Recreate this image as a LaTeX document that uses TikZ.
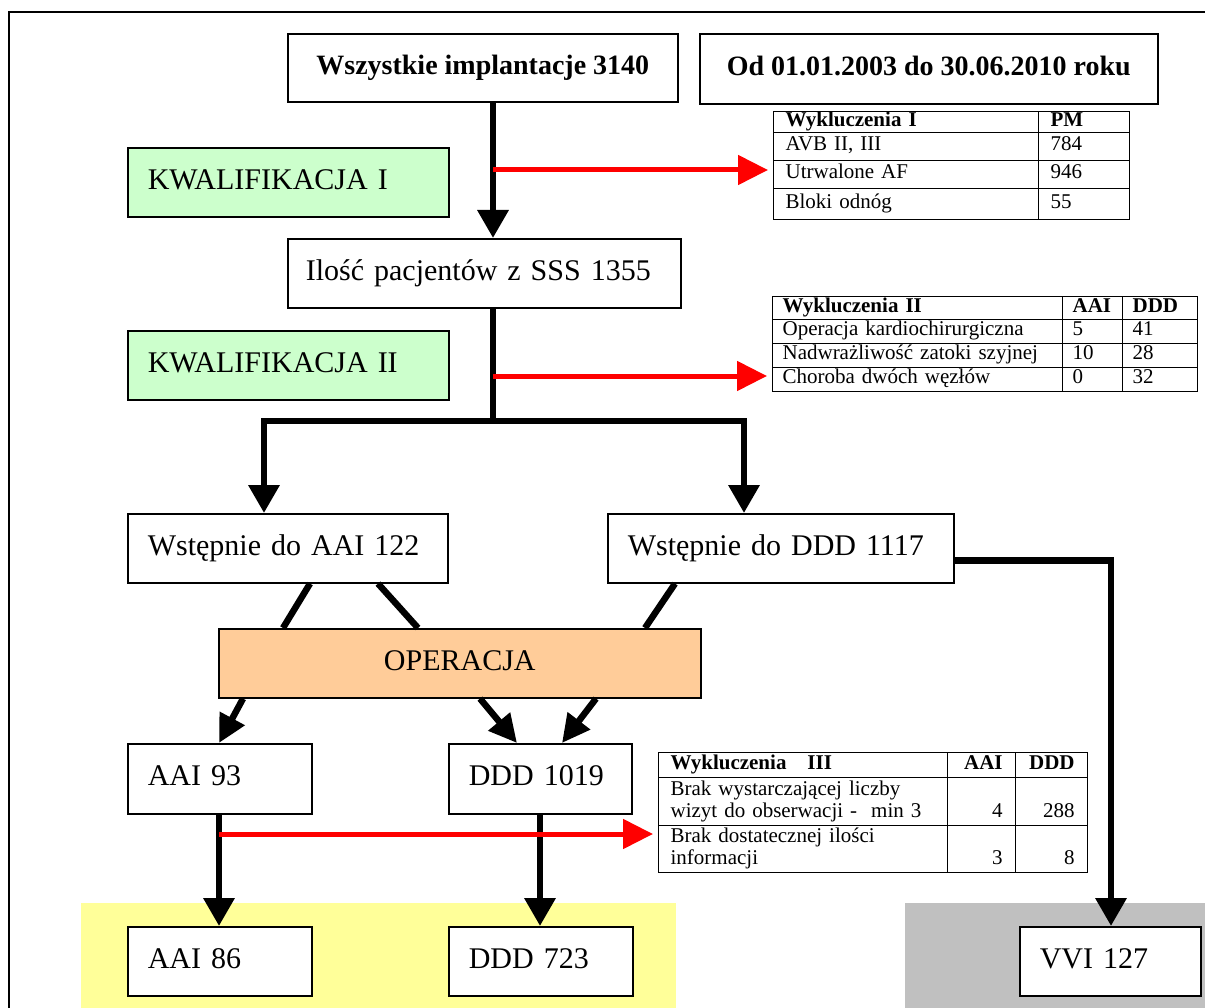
\documentclass[tikz,border=0pt]{standalone}
\usepackage{fontspec}
\setmainfont{Liberation Serif}
\usepackage{tikz}
\usetikzlibrary{positioning,calc,arrows.meta}

\definecolor{kwal}{RGB}{204,255,204}
\definecolor{operfill}{RGB}{255,204,153}
\definecolor{wynik}{RGB}{255,255,153}
\definecolor{vvibg}{RGB}{192,192,192}

\newcommand{\boxfont}{\fontsize{30}{36}\selectfont}
\newcommand{\headfont}{\fontsize{28}{34}\selectfont\bfseries}
\newcommand{\tabfont}{\fontsize{21}{22}\selectfont}

\begin{document}
\begin{tikzpicture}[x=1pt,y=-1pt,
  box/.style={draw,line width=1.6pt,fill=white,anchor=north west,inner ysep=0pt,text height=21pt,text depth=7pt,font=\boxfont},
  boxl/.style={box,align=left,inner xsep=20pt},
  cell/.style={draw,line width=1.2pt,anchor=north west,inner ysep=0pt,inner xsep=12pt,align=left,font=\tabfont},
  cell1/.style={cell,text height=14pt,text depth=6pt},
  cell2/.style={cell1,inner xsep=10pt},
  flowline/.style={line width=6.5pt},
  flow/.style={flowline,-{Triangle[width=30pt,length=28pt]}},
  flowd/.style={flowline,-{Triangle[width=27pt,length=28pt]}},
  excl/.style={red,line width=5pt,-{Triangle[width=29pt,length=30pt]},shorten >=5pt}]
\useasboundingbox (0,0) rectangle (1205,1008);
\clip (0,0) rectangle (1205,1008);

\fill[wynik] (81,903) rectangle (676,1008);
\fill[vvibg] (905,903) rectangle (1205,1008);
\draw[line width=1.5pt] (9,12) rectangle (1250,1050);

\node[box,font=\headfont,minimum width=390pt,minimum height=68pt] (wsz) at (287,33) {Wszystkie implantacje 3140};
\node[box,font=\headfont,minimum width=458pt,minimum height=70pt] (okres) at (699,33) {Od 01.01.2003 do 30.06.2010 roku};
\node[boxl,fill=kwal,text width=281pt,minimum height=69pt] (kw1) at (127,147) {KWALIFIKACJA I};
\node[boxl,inner xsep=18pt,text width=357pt,minimum height=69pt] (ilosc) at (287,238) {Ilość pacjentów z SSS 1355};
\node[boxl,fill=kwal,text width=281pt,minimum height=69pt] (kw2) at (127,330) {KWALIFIKACJA II};
\node[boxl,text width=280pt,minimum height=69pt] (wstA) at (127,513) {Wstępnie do AAI 122};
\node[boxl,text width=306pt,minimum height=69pt] (wstD) at (607,513) {Wstępnie do DDD 1117};
\node[box,fill=operfill,minimum width=482pt,minimum height=69pt] (oper) at (218,628) {OPERACJA};
\node[boxl,text width=144pt,minimum height=70pt] (aai93) at (127,743) {AAI 93};
\node[boxl,text width=143pt,minimum height=70pt] (ddd1019) at (448,743) {DDD 1019};
\node[boxl,text width=144pt,minimum height=69pt] (aai86) at (127,926) {AAI 86};
\node[boxl,text width=144pt,minimum height=69pt] (ddd723) at (448,926) {DDD 723};
\node[boxl,text width=141pt,minimum height=69pt] (vvi) at (1019,926) {VVI 127};

% Wykluczenia I
\node[cell1,text width=241pt,minimum height=21pt] (w1h) at (773,111) {\textbf{Wykluczenia I}};
\node[cell1,text width=67pt,minimum height=21pt] (w1hn) at (1038,111) {\textbf{PM}};
\node[cell1,text width=241pt,minimum height=28pt] (w1a) at (773,132) {AVB II, III};
\node[cell1,text width=67pt,minimum height=28pt] (w1an) at (1038,132) {784};
\node[cell1,text width=241pt,minimum height=28pt] (w1b) at (773,160) {Utrwalone AF};
\node[cell1,text width=67pt,minimum height=28pt] (w1bn) at (1038,160) {946};
\node[cell1,text width=241pt,minimum height=31pt] (w1c) at (773,188) {Bloki odnóg};
\node[cell1,text width=67pt,minimum height=31pt] (w1cn) at (1038,188) {55};

% Wykluczenia II
\node[cell2,text width=270pt,minimum height=23pt] (w2h) at (772,296) {\textbf{Wykluczenia II}};
\node[cell2,text width=40pt,minimum height=23pt] (w2ha) at (1062,296) {\textbf{AAI}};
\node[cell2,text width=55pt,minimum height=23pt] (w2hd) at (1122,296) {\textbf{DDD}};
\node[cell2,text width=270pt,minimum height=24pt] (w2a) at (772,319) {Operacja kardiochirurgiczna};
\node[cell2,text width=40pt,minimum height=24pt] (w2aa) at (1062,319) {5};
\node[cell2,text width=55pt,minimum height=24pt] (w2ad) at (1122,319) {41};
\node[cell2,text width=270pt,minimum height=24pt] (w2b) at (772,343) {Nadwrażliwość zatoki szyjnej};
\node[cell2,text width=40pt,minimum height=24pt] (w2ba) at (1062,343) {10};
\node[cell2,text width=55pt,minimum height=24pt] (w2bd) at (1122,343) {28};
\node[cell2,text width=270pt,minimum height=24pt] (w2c) at (772,367) {Choroba dwóch węzłów};
\node[cell2,text width=40pt,minimum height=24pt] (w2ca) at (1062,367) {0};
\node[cell2,text width=55pt,minimum height=24pt] (w2cd) at (1122,367) {32};

% Wykluczenia III
\node[cell1,text width=265pt,minimum height=25pt] (w3h) at (658,752) {\textbf{Wykluczenia\ \ \ III}};
\node[cell1,align=right,inner xsep=13pt,text width=42pt,minimum height=25pt] (w3ha) at (947,752) {\textbf{AAI}};
\node[cell1,align=right,inner xsep=13pt,text width=46pt,minimum height=25pt] (w3hd) at (1015,752) {\textbf{DDD}};
\node[cell,text width=265pt,minimum height=48pt] (w3a) at (658,777) {\strut Brak wystarczającej liczby\\\strut wizyt do obserwacji -\ \ min 3};
\node[cell,align=right,inner xsep=13pt,text width=42pt,minimum height=48pt] (w3aa) at (947,777) {\strut\\\strut 4};
\node[cell,align=right,inner xsep=13pt,text width=46pt,minimum height=48pt] (w3ad) at (1015,777) {\strut\\\strut 288};
\node[cell,text width=265pt,minimum height=47pt] (w3b) at (658,825) {\strut Brak dostatecznej ilości\\\strut informacji};
\node[cell,align=right,inner xsep=13pt,text width=42pt,minimum height=47pt] (w3ba) at (947,825) {\strut\\\strut 3};
\node[cell,align=right,inner xsep=13pt,text width=46pt,minimum height=47pt] (w3bd) at (1015,825) {\strut\\\strut 8};

\coordinate (spine) at (493,0);
\coordinate (xL) at (264,0);
\coordinate (xR) at (744,0);
\coordinate (xA) at (219,0);
\coordinate (xD) at (540,0);
\coordinate (xV) at (1111,0);
\coordinate (fork) at (493,421);
\coordinate (k1) at (493,170);
\coordinate (k2) at (493,376);
\coordinate (k3) at (219,834);

\draw[flow] (wsz.south -| spine) -- (ilosc.north -| spine);
\draw[flowline] (ilosc.south -| spine) -- (fork);
\draw[flow] (fork) -| (wstA.north -| xL);
\draw[flow] (fork) -| (wstD.north -| xR);

\draw[flowline] ($(wstA.south west)+(183,0)$) -- ($(oper.north west)+(65,0)$);
\draw[flowline] ($(wstA.south west)+(251,0)$) -- ($(oper.north west)+(200,0)$);
\draw[flowline] ($(wstD.south west)+(68,0)$) -- ($(oper.north west)+(427,0)$);

\draw[flowd] ($(oper.south west)+(25,0)$) -- ($(aai93.north west)+(92,0)$);
\draw[flowd] ($(oper.south west)+(262,0)$) -- ($(ddd1019.north west)+(69,0)$);
\draw[flowd] ($(oper.south west)+(378,0)$) -- ($(ddd1019.north west)+(114,0)$);

\draw[flow] (aai93.south -| xA) -- (aai86.north -| xA);
\draw[flow] (ddd1019.south -| xD) -- (ddd723.north -| xD);
\draw[flow] ($(wstD.south east)+(0,-23)$) -| (vvi.north -| xV);

\draw[excl] (k1) -- (k1 -| w1b.west);
\draw[excl] (k2) -- (k2 -| w2c.west);
\draw[excl] (k3) -- (k3 -| w3b.west);
\end{tikzpicture}
\end{document}
